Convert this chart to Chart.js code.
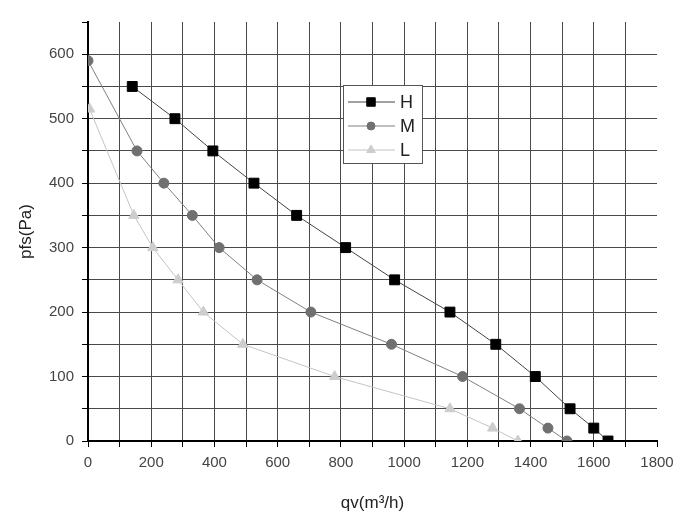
<!DOCTYPE html>
<html>
<head>
<meta charset="utf-8">
<script src="https://cdn.jsdelivr.net/npm/chart.js@4"></script>
<style>
  html, body { margin: 0; padding: 0; background: #fff; }
  #wrap { width: 700px; height: 520px; }
</style>
</head>
<body>
<div id="wrap"><canvas id="chart" width="700" height="520"></canvas></div>
<script>
// fan curves: flow qv (m3/h) vs pressure pfs (Pa)
const hFlow = [140, 275, 395, 525, 660, 815, 970, 1145, 1290, 1415, 1525, 1600, 1645];
const hPress = [550, 500, 450, 400, 350, 300, 250, 200, 150, 100, 50, 20, 0];
const mFlow = [0, 155, 240, 330, 415, 535, 705, 960, 1185, 1365, 1455, 1515];
const mPress = [590, 450, 400, 350, 300, 250, 200, 150, 100, 50, 20, 0];
const lFlow = [5, 145, 205, 285, 365, 490, 780, 1145, 1280, 1360];
const lPress = [515, 350, 300, 250, 200, 150, 100, 50, 20, 0];
const seriesNames = ['H', 'M', 'L'];

const xMin = 0, xMax = 1800, xStep = 100, xLabelEvery = 200;
const yMin = 0, yMax = 650, yStep = 50, yLabelEvery = 100;

const toPoints = (xs, ys) => xs.map((x, i) => ({ x: x, y: ys[i] }));

const FONT = '"Liberation Sans", Arial, sans-serif';
const GRID = '#4a4a4a';

// legend box sitting inside the plot, like the original
const boxLegend = {
  id: 'boxLegend',
  afterDraw(chart) {
    const ctx = chart.ctx;
    const left = 343, top = 85, w = 79, h = 78;
    ctx.save();
    ctx.fillStyle = '#fff';
    ctx.fillRect(left, top, w, h);
    ctx.strokeStyle = '#555';
    ctx.lineWidth = 1;
    ctx.strokeRect(left + 0.5, top + 0.5, w, h);
    chart.data.datasets.forEach((ds, i) => {
      const y = top + 17 + i * 24;
      ctx.strokeStyle = ds.borderColor;
      ctx.lineWidth = 1;
      ctx.beginPath();
      ctx.moveTo(left + 5, y);
      ctx.lineTo(left + 52, y);
      ctx.stroke();
      // marker in the middle of the short line
      ctx.fillStyle = ds.pointBackgroundColor;
      ctx.strokeStyle = ds.pointBorderColor;
      Chart.helpers.drawPoint(ctx, {
        pointStyle: ds.pointStyle,
        radius: ds.pointRadius - 1,
        borderWidth: 1
      }, left + 28, y);
      ctx.fillStyle = '#222';
      ctx.font = '18px ' + FONT;
      ctx.textBaseline = 'middle';
      ctx.fillText(ds.label, left + 57, y + 1);
    });
    ctx.restore();
  }
};

new Chart(document.getElementById('chart').getContext('2d'), {
  type: 'line',
  data: {
    datasets: [
      {
        label: seriesNames[0],
        data: toPoints(hFlow, hPress),
        borderColor: '#444',
        borderWidth: 1,
        pointStyle: 'rect',
        pointRadius: 7,
        pointBackgroundColor: '#000',
        pointBorderColor: '#000',
        tension: 0
      },
      {
        label: seriesNames[1],
        data: toPoints(mFlow, mPress),
        borderColor: '#808080',
        borderWidth: 1,
        pointStyle: 'circle',
        pointRadius: 5,
        pointBackgroundColor: '#707070',
        pointBorderColor: '#707070',
        tension: 0
      },
      {
        label: seriesNames[2],
        data: toPoints(lFlow, lPress),
        borderColor: '#c4c4c4',
        borderWidth: 1,
        pointStyle: 'triangle',
        pointRadius: 6,
        pointBackgroundColor: '#cdcdcd',
        pointBorderColor: '#cdcdcd',
        tension: 0
      }
    ]
  },
  options: {
    responsive: false,
    animation: false,
    layout: { padding: { top: 22, right: 43, left: 0, bottom: 0 } },
    plugins: {
      legend: { display: false },
      tooltip: { enabled: false }
    },
    scales: {
      x: {
        type: 'linear',
        min: xMin,
        max: xMax,
        afterFit: (scale) => { scale.height = 79; },
        border: { color: '#000', width: 2 },
        grid: {
          color: (c) => (c.tick && c.tick.value === xMax ? 'rgba(0,0,0,0)' : GRID),
          tickColor: '#000',
          tickLength: 6,
          lineWidth: 1
        },
        ticks: {
          stepSize: xStep,
          autoSkip: false,
          maxRotation: 0,
          padding: 7,
          color: '#444',
          font: { family: FONT, size: 15 },
          callback: (v) => (v % xLabelEvery === 0 ? v : '')
        },
        title: {
          display: true,
          text: 'qv(m³/h)',
          color: '#222',
          font: { family: FONT, size: 17 },
          padding: { top: 6, bottom: 6 }
        }
      },
      y: {
        type: 'linear',
        min: yMin,
        max: yMax,
        afterFit: (scale) => { scale.width = 88; },
        border: { color: '#000', width: 2 },
        grid: {
          color: (c) => (c.tick && c.tick.value === yMax ? 'rgba(0,0,0,0)' : GRID),
          tickColor: '#000',
          tickLength: 6,
          lineWidth: 1
        },
        ticks: {
          stepSize: yStep,
          autoSkip: false,
          padding: 8,
          color: '#444',
          font: { family: FONT, size: 15 },
          callback: (v) => (v % yLabelEvery === 0 ? v : '')
        },
        title: {
          display: true,
          text: 'pfs(Pa)',
          color: '#222',
          font: { family: FONT, size: 17 },
          padding: { top: 16, bottom: 0 }
        }
      }
    }
  },
  plugins: [boxLegend]
});
</script>
</body>
</html>
